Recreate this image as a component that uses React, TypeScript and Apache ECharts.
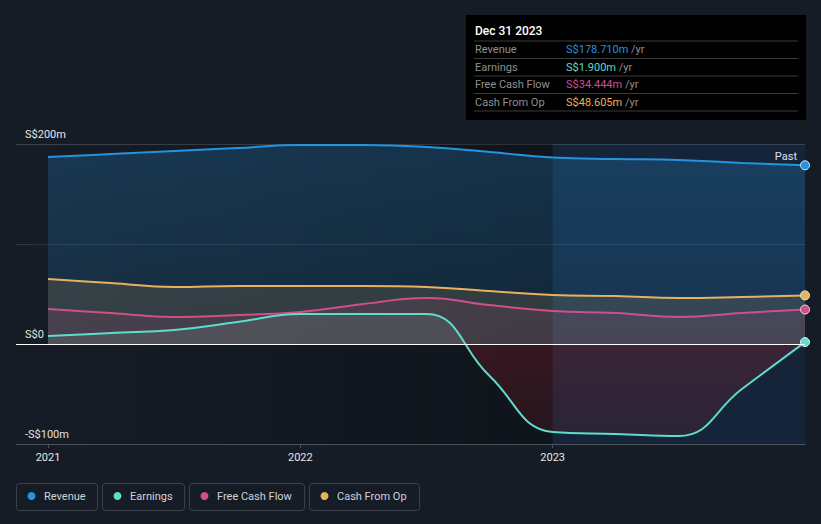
import React, { useEffect, useRef } from "react";
import * as echarts from "echarts";

// quarter ends, as decimal years (Dec 2020 ... Dec 2023)
const periods = [2021, 2021.25, 2021.5, 2021.75, 2022, 2022.25, 2022.5, 2022.75, 2023, 2023.25, 2023.5, 2023.75, 2024];
const revenue = [187, 190, 193, 196, 199, 199, 197, 192, 186.5, 185, 184, 181, 178.71];
const earnings = [8, 11, 14, 22, 30, 30, 30, -32, -88, -90, -92, -45, 1.9];
const freeCashFlow = [35, 31, 27, 29, 32, 40, 46, 39, 33, 31, 27, 31, 34.444];
const cashFromOp = [65, 61, 57, 58, 58, 58, 57, 53, 49, 48, 46, 47, 48.605];

const seriesNames = ["Revenue", "Earnings", "Free Cash Flow", "Cash From Op"];
const seriesColors = ["#2394df", "#5fdccb", "#cf4f8b", "#e8b15f"];
const xTickValues = [2021, 2022, 2023];
const yTickLabels: Record<string, string> = { "200": "S$200m", "0": "S$0", "-100": "-S$100m" };
const tooltipTitle = "Dec 31 2023";
const tooltipValues = ["S$178.710m", "S$1.900m", "S$34.444m", "S$48.605m"];

const FONT = "Roboto, 'Noto Sans', sans-serif";

export default function App() {
  const ref = useRef<HTMLDivElement>(null);
  useEffect(() => {
    if (!ref.current) return;
    const chart = echarts.init(ref.current, null, { renderer: "svg" });
    const last = periods.length - 1;
    const mk = (vals: number[]) => vals.map((v, i) => [periods[i], v]);
    const sym = (_v: any, p: any) => (p.dataIndex === last ? 9 : 0);
    const xMin = 2021 - 32 / 252.33;

    const legendBoxes = [
      [16, 81],
      [102, 82],
      [189, 115],
      [309, 110],
    ];
    const graphics: any[] = [];
    // tooltip box
    graphics.push({ type: "rect", shape: { x: 466, y: 15, width: 340, height: 105 }, style: { fill: "#000" }, silent: true });
    graphics.push({ type: "text", x: 475, y: 31, style: { text: tooltipTitle, fill: "#ffffff", font: `500 12px ${FONT}`, verticalAlign: "middle" } });
    const sepY = [41, 58.5, 76, 93.5, 111];
    sepY.forEach((y) =>
      graphics.push({ type: "line", shape: { x1: 474, y1: y, x2: 798, y2: y }, style: { stroke: "#3a3a3a", lineWidth: 1 } })
    );
    const rowY = [49.5, 67, 84.5, 102];
    seriesNames.forEach((n, i) => {
      graphics.push({ type: "text", x: 475, y: rowY[i], style: { text: n, fill: "#8c9096", font: `11px ${FONT}`, verticalAlign: "middle" } });
      graphics.push({
        type: "text",
        x: 566,
        y: rowY[i],
        style: {
          text: `{v|${tooltipValues[i]}} {u|/yr}`,
          verticalAlign: "middle",
          font: `11px ${FONT}`,
          rich: {
            v: { fill: seriesColors[i], font: `11px ${FONT}` },
            u: { fill: "#8c9096", font: `11px ${FONT}` },
          },
        },
      });
    });
    // Past label
    graphics.push({ type: "text", x: 797, y: 156, style: { text: "Past", fill: "#ffffff", font: `11px ${FONT}`, align: "right", verticalAlign: "middle" } });
    // legend
    seriesNames.forEach((n, i) => {
      const [x, w] = legendBoxes[i];
      graphics.push({ type: "rect", shape: { x: x + 0.5, y: 483.5, width: w, height: 27, r: 3 }, style: { fill: "none", stroke: "#3b414a", lineWidth: 1 } });
      graphics.push({ type: "circle", shape: { cx: x + 15.5, cy: 496, r: 4 }, style: { fill: seriesColors[i] } });
      graphics.push({ type: "text", x: x + 28, y: 496.5, style: { text: n, fill: "#cfd3d8", font: `11px ${FONT}`, verticalAlign: "middle" } });
    });

    const G = (stops: [number, string][]) =>
      new echarts.graphic.LinearGradient(0, 144, 0, 444, stops.map(([o, c]) => ({ offset: o, color: c })), true);

    const base = {
      type: "line",
      smooth: 0.45,
      symbol: "circle",
      symbolSize: sym,
      showSymbol: true,
      lineStyle: { width: 2 },
      emphasis: { disabled: true },
    };

    chart.setOption({
      animation: false,
      backgroundColor: "#161c26",
      grid: { left: 16, right: 16, top: 144, bottom: 80, containLabel: false },
      xAxis: {
        type: "value",
        min: xMin,
        max: 2024,
        axisLine: { show: true, onZero: false, lineStyle: { color: "#4c525b", width: 1 } },
        axisTick: { show: true, customValues: xTickValues, length: 4, lineStyle: { color: "#4c525b" } },
        axisLabel: { customValues: xTickValues, color: "#e6e6e6", fontSize: 11, fontFamily: FONT, margin: 8, formatter: (v: number) => String(Math.round(v)) },
        splitLine: { show: false },
      },
      yAxis: {
        type: "value",
        min: -100,
        max: 200,
        interval: 100,
        axisLine: { show: false },
        axisTick: { show: false },
        axisLabel: {
          inside: true,
          margin: 9,
          align: "left",
          verticalAlign: "bottom",
          padding: [0, 0, 4, 0],
          color: "#e6e6e6",
          fontSize: 11,
          fontFamily: FONT,
          formatter: (v: number) => yTickLabels[String(v)] ?? "",
        },
        splitLine: { show: true, lineStyle: { color: ["#4c525b", "#ffffff", "#2e3540", "#3c424b"], width: 1 } },
      },
      graphic: graphics,
      series: [
        {
          type: "line",
          data: [],
          silent: true,
          z: 0,
          markArea: {
            silent: true,
            data: [
              [
                {
                  xAxis: xMin,
                  itemStyle: {
                    color: new echarts.graphic.LinearGradient(0, 0, 1, 0, [
                      { offset: 0, color: "rgba(0,0,0,0)" },
                      { offset: 1, color: "rgba(0,0,0,0.3)" },
                    ]),
                  },
                },
                { xAxis: 2023 },
              ],
              [{ xAxis: 2023, itemStyle: { color: "rgba(15,80,150,0.17)" } }, { xAxis: 2024 }],
            ],
          },
        },
        {
          ...base,
          name: seriesNames[0],
          data: mk(revenue),
          color: seriesColors[0],
          itemStyle: { color: seriesColors[0], borderColor: "#dfe9f3", borderWidth: 1 },
          areaStyle: { color: G([[0, "rgba(35,148,223,0.34)"], [0.66, "rgba(35,148,223,0.2)"], [1, "rgba(35,148,223,0.2)"]]) },
          z: 1,
        },
        {
          ...base,
          name: seriesNames[3],
          data: mk(cashFromOp),
          color: seriesColors[3],
          itemStyle: { color: seriesColors[3], borderColor: "#f3ead9", borderWidth: 1 },
          areaStyle: { color: "rgba(232,177,95,0.2)" },
          z: 2,
        },
        {
          ...base,
          name: seriesNames[2],
          data: mk(freeCashFlow),
          color: seriesColors[2],
          itemStyle: { color: seriesColors[2], borderColor: "#f3dce6", borderWidth: 1 },
          areaStyle: { color: "rgba(207,79,139,0.16)" },
          z: 3,
        },
        {
          ...base,
          name: seriesNames[1],
          data: mk(earnings),
          color: seriesColors[1],
          itemStyle: { color: seriesColors[1], borderColor: "#e2f7f3", borderWidth: 1 },
          areaStyle: {
            color: G([
              [0, "rgba(150,200,190,0.18)"],
              [0.666, "rgba(150,200,190,0.18)"],
              [0.667, "rgba(200,35,50,0.3)"],
              [1, "rgba(200,35,50,0.15)"],
            ]),
          },
          markLine: {
            silent: true,
            symbol: "none",
            label: { show: false },
            lineStyle: { color: "#ffffff", width: 1, type: "solid" },
            data: [{ yAxis: 0 }],
          },
          z: 4,
        },
      ],
    });
    return () => chart.dispose();
  }, []);
  return <div ref={ref} style={{ position: "absolute", left: 0, top: 0, width: 821, height: 524 }} />;
}
